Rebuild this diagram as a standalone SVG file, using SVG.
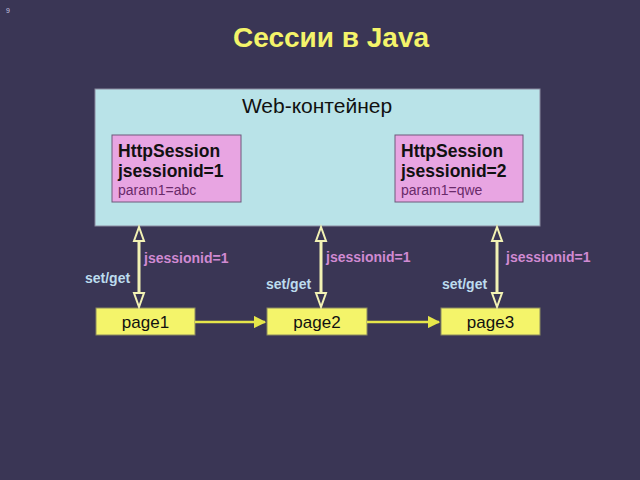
<svg xmlns="http://www.w3.org/2000/svg" width="640" height="480" viewBox="0 0 640 480">
<defs>
<style>
.t{font-family:"Liberation Sans",Arial,sans-serif}
.b{font-weight:bold}
.sess{fill:#e8a5e2;stroke:#6e5a7a;stroke-width:1}
.page{fill:#f4f46a;stroke:#8a8a60;stroke-width:1}
.vl{stroke:#f2f2b4;stroke-width:3;fill:none}
.hd{fill:#3a3655;stroke:#f2f2b4;stroke-width:2}
.hl{stroke:#e6e64a;stroke-width:2.5;fill:none}
.jl{fill:#d08ad2;font-size:14px;font-weight:bold}
.sg{fill:#bcdcee;font-size:14px;font-weight:bold}
</style>
<marker id="ah" viewBox="0 0 10 10" refX="9" refY="5" markerWidth="5" markerHeight="5" orient="auto" markerUnits="strokeWidth">
<path d="M0,0 L10,5 L0,10 z" fill="#e6e64a"/>
</marker>
</defs>
<rect width="640" height="480" fill="#3a3655"/>
<text x="6" y="13" class="t" font-size="7" fill="#c8c8e0">9</text>
<text x="331" y="47" class="t b" font-size="28" fill="#f4f46a" text-anchor="middle">Сессии в Java</text>
<g id="container">
<rect x="95" y="89" width="445" height="137" fill="#b9e3e8" stroke="#8a8aa0" stroke-width="1"/>
<text x="317" y="113" class="t" font-size="21" fill="#111" text-anchor="middle">Web-контейнер</text>
</g>
<g id="session1">
<rect x="112" y="135" width="129" height="67" class="sess"/>
<text x="118" y="157" class="t b" font-size="17.5" fill="#111">HttpSession</text>
<text x="118" y="177" class="t b" font-size="17.5" fill="#111">jsessionid=1</text>
<text x="118" y="195" class="t" font-size="14" fill="#6a2a6a">param1=abc</text>
</g>
<g id="session2">
<rect x="395" y="135" width="128" height="67" class="sess"/>
<text x="401" y="157" class="t b" font-size="17.5" fill="#111">HttpSession</text>
<text x="401" y="177" class="t b" font-size="17.5" fill="#111">jsessionid=2</text>
<text x="401" y="195" class="t" font-size="14" fill="#6a2a6a">param1=qwe</text>
</g>
<g id="page1">
<rect x="96" y="308" width="99" height="27" class="page"/>
<text x="145.5" y="328" class="t" font-size="17" fill="#111" text-anchor="middle">page1</text>
</g>
<g id="page2">
<rect x="267" y="308" width="100" height="27" class="page"/>
<text x="317" y="328" class="t" font-size="17" fill="#111" text-anchor="middle">page2</text>
</g>
<g id="page3">
<rect x="441" y="308" width="99" height="27" class="page"/>
<text x="490.5" y="328" class="t" font-size="17" fill="#111" text-anchor="middle">page3</text>
</g>
<g id="connectors">
<line x1="139" y1="240" x2="139" y2="294" class="vl"/>
<polygon points="139,227 134,241 144,241" class="hd"/>
<polygon points="139,307 134,293 144,293" class="hd"/>
<line x1="321" y1="240" x2="321" y2="294" class="vl"/>
<polygon points="321,227 316,241 326,241" class="hd"/>
<polygon points="321,307 316,293 326,293" class="hd"/>
<line x1="497" y1="240" x2="497" y2="294" class="vl"/>
<polygon points="497,227 492,241 502,241" class="hd"/>
<polygon points="497,307 492,293 502,293" class="hd"/>
<line x1="195" y1="322" x2="265" y2="322" class="hl" marker-end="url(#ah)"/>
<line x1="367" y1="322" x2="439" y2="322" class="hl" marker-end="url(#ah)"/>
<text x="144" y="263" class="t jl">jsessionid=1</text>
<text x="326" y="262" class="t jl">jsessionid=1</text>
<text x="506" y="262" class="t jl">jsessionid=1</text>
<text x="85" y="283" class="t sg">set/get</text>
<text x="266" y="289" class="t sg">set/get</text>
<text x="442" y="289" class="t sg">set/get</text>
</g>
</svg>
